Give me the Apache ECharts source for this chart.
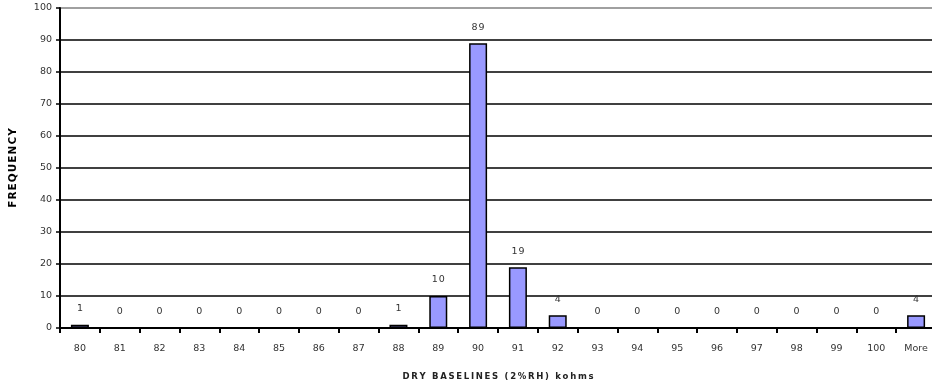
<!DOCTYPE html>
<html>
<head>
<meta charset="utf-8">
<script src="https://cdn.jsdelivr.net/npm/echarts@6/dist/echarts.min.js"></script>
<style>
  html, body { margin: 0; padding: 0; background: #fff; }
  #chart { width: 932px; height: 385px; }
</style>
</head>
<body>
<div id="chart"></div>
<script>
// Histogram of dry baseline readings (kohms at 2% RH)
const categories = ['80','81','82','83','84','85','86','87','88','89','90','91','92','93','94','95','96','97','98','99','100','More'];
const frequency  = [1, 0, 0, 0, 0, 0, 0, 0, 1, 10, 89, 19, 4, 0, 0, 0, 0, 0, 0, 0, 0, 4];
const yTicks = { min: 0, max: 100, interval: 10 };
const xTitle = 'DRY BASELINES (2%RH) kohms';
const yTitle = 'FREQUENCY';

const FONT = '"DejaVu Sans", Verdana, sans-serif';

// widen text by putting a thin space between the characters
const spaced = (s, gap) => Array.from(String(s)).join(gap);
const THIN = '\u2009';
const HAIR = '\u200A';

const chart = echarts.init(document.getElementById('chart'), null, { renderer: 'canvas' });
chart.setOption({
  animation: false,
  backgroundColor: '#ffffff',
  grid: { left: 60, top: 8, width: 876, height: 320, containLabel: false, outerBoundsMode: 'none' },
  xAxis: {
    type: 'category',
    data: categories,
    boundaryGap: true,
    name: spaced(xTitle, THIN),
    nameLocation: 'middle',
    nameGap: 44,
    nameTextStyle: { fontFamily: FONT, fontSize: 8.5, fontWeight: 'bold', color: '#222' },
    axisLine: { lineStyle: { color: '#000', width: 2 } },
    axisTick: { show: true, alignWithLabel: false, length: 5, lineStyle: { color: '#000', width: 2 } },
    axisLabel: { fontFamily: FONT, fontSize: 9.5, color: '#333', margin: 16, interval: 0 },
    splitLine: { show: false }
  },
  yAxis: {
    type: 'value',
    min: yTicks.min,
    max: yTicks.max,
    interval: yTicks.interval,
    name: spaced(yTitle, HAIR),
    nameLocation: 'middle',
    nameGap: 41,
    nameRotate: 90,
    nameTextStyle: { fontFamily: FONT, fontSize: 10.5, fontWeight: 900, color: '#000' },
    axisLine: { show: true, lineStyle: { color: '#000', width: 2 } },
    axisTick: { show: true, length: 4, lineStyle: { color: '#000', width: 1.5 } },
    axisLabel: { fontFamily: FONT, fontSize: 9.5, color: '#333', margin: 8 },
    splitLine: {
      show: true,
      lineStyle: {
        width: 1.6,
        color: ['#000','#000','#000','#000','#000','#000','#000','#000','#000','#000','#808080']
      }
    }
  },
  series: [{
    type: 'bar',
    data: frequency,
    barWidth: 18,
    itemStyle: { color: '#9999ff', borderColor: '#000', borderWidth: 1.5 },
    label: {
      show: true,
      position: 'top',
      distance: 11,
      fontFamily: FONT,
      fontSize: 9.5,
      color: '#333',
      formatter: (p) => spaced(p.value, HAIR)
    }
  }]
});
</script>
</body>
</html>
